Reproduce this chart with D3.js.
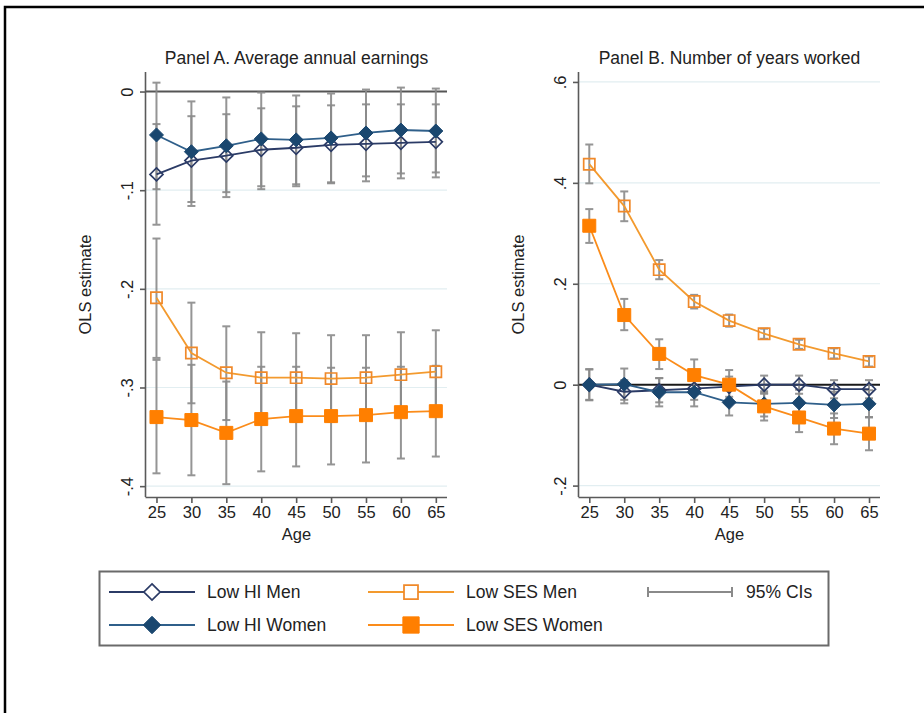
<!DOCTYPE html>
<html>
<head>
<meta charset="utf-8">
<script src="https://cdn.jsdelivr.net/npm/d3@7"></script>
<style>
    body { margin: 0; background: #fff; }
    svg { display: block; font-family: "Liberation Sans", Arial, sans-serif; }
</style>
</head>
<body>
<div id="chart"></div>
<script>
// Ages on the x axis
const ages = [25, 30, 35, 40, 45, 50, 55, 60, 65];

// Panel A. Average annual earnings (estimate, lower CI, upper CI)
const hiMenA = [-0.084, -0.070, -0.065, -0.059, -0.057, -0.054, -0.053, -0.052, -0.051];
const hiMenALo = [-0.135, -0.116, -0.107, -0.099, -0.096, -0.093, -0.091, -0.088, -0.087];
const hiMenAHi = [-0.033, -0.025, -0.023, -0.017, -0.015, -0.014, -0.013, -0.013, -0.013];
const hiWomenA = [-0.044, -0.061, -0.055, -0.048, -0.049, -0.047, -0.042, -0.039, -0.040];
const hiWomenALo = [-0.099, -0.112, -0.102, -0.096, -0.094, -0.092, -0.086, -0.083, -0.082];
const hiWomenAHi = [0.009, -0.010, -0.006, -0.001, -0.004, -0.002, 0.002, 0.004, 0.003];
const sesMenA = [-0.209, -0.265, -0.285, -0.290, -0.290, -0.291, -0.290, -0.287, -0.284];
const sesMenALo = [-0.270, -0.316, -0.333, -0.336, -0.335, -0.335, -0.333, -0.330, -0.327];
const sesMenAHi = [-0.149, -0.214, -0.238, -0.244, -0.245, -0.247, -0.247, -0.244, -0.242];
const sesWomenA = [-0.330, -0.333, -0.346, -0.332, -0.329, -0.329, -0.328, -0.325, -0.324];
const sesWomenALo = [-0.387, -0.389, -0.398, -0.385, -0.380, -0.378, -0.376, -0.372, -0.370];
const sesWomenAHi = [-0.272, -0.277, -0.294, -0.279, -0.279, -0.280, -0.280, -0.279, -0.278];

// Panel B. Number of years worked
const hiMenB = [0.000, -0.014, -0.011, -0.008, -0.004, 0.000, 0.000, -0.009, -0.009];
const hiMenBLo = [-0.030, -0.037, -0.035, -0.030, -0.024, -0.018, -0.018, -0.027, -0.027];
const hiMenBHi = [0.030, 0.009, 0.013, 0.014, 0.016, 0.018, 0.018, 0.009, 0.009];
const hiWomenB = [0.000, 0.001, -0.015, -0.015, -0.035, -0.038, -0.036, -0.040, -0.038];
const hiWomenBLo = [-0.031, -0.030, -0.043, -0.043, -0.061, -0.063, -0.062, -0.066, -0.065];
const hiWomenBHi = [0.031, 0.032, 0.013, 0.013, -0.009, -0.013, -0.010, -0.014, -0.011];
const sesMenB = [0.437, 0.354, 0.228, 0.165, 0.127, 0.101, 0.080, 0.062, 0.046];
const sesMenBLo = [0.399, 0.324, 0.209, 0.151, 0.115, 0.091, 0.071, 0.052, 0.036];
const sesMenBHi = [0.476, 0.383, 0.247, 0.178, 0.139, 0.111, 0.089, 0.072, 0.056];
const sesWomenB = [0.315, 0.138, 0.061, 0.019, 0.000, -0.043, -0.065, -0.087, -0.097];
const sesWomenBLo = [0.281, 0.108, 0.031, -0.012, -0.030, -0.071, -0.094, -0.118, -0.130];
const sesWomenBHi = [0.348, 0.170, 0.090, 0.050, 0.029, -0.016, -0.036, -0.057, -0.064];

// Tick labels
const yTicksA = [0, -0.1, -0.2, -0.3, -0.4];
const yTicksB = [0.6, 0.4, 0.2, 0, -0.2];

const seriesNames = ["Low HI Men", "Low HI Women", "Low SES Men", "Low SES Women"];
const ciLabel = "95% CIs";

const styles = {
    "Low HI Men": { line: "#2b3b66", marker: "diamond", fill: "none", stroke: "#2b3b66" },
    "Low HI Women": { line: "#2f5f8a", marker: "diamond", fill: "#1a476f", stroke: "#1a476f" },
    "Low SES Men": { line: "#f39a2e", marker: "square", fill: "none", stroke: "#f0892a" },
    "Low SES Women": { line: "#fb8c1a", marker: "square", fill: "#ff7f00", stroke: "#ff7f00" }
};
const ciColor = "#8a8a8a";

const width = 924, height = 713;
const svg = d3.select("#chart").append("svg")
    .attr("width", width)
    .attr("height", height);

// outer frame (top and left edges only)
svg.append("path")
    .attr("d", `M5,${height} L5,7 L${width},7`)
    .attr("fill", "none")
    .attr("stroke", "#000")
    .attr("stroke-width", 2.5);

function markerPath(type, filled) {
    if (type === "diamond") {
        const r = filled ? 7 : 6.5;
        return `M0,${-r}L${r},0L0,${r}L${-r},0Z`;
    }
    const s = filled ? 6.5 : 5.6;
    return `M${-s},${-s}H${s}V${s}H${-s}Z`;
}

// Stata-style labels: 0, -.1, .2
function fmt(v) {
    if (Math.abs(v) < 1e-9) return "0";
    const s = Math.abs(v).toFixed(1).replace(/^0/, "");
    return (v < 0 ? "-" : "") + s;
}

function drawPanel(p) {
    const x = d3.scaleLinear().domain(p.xDomain).range([p.left, p.right]);
    const y = d3.scaleLinear().domain(p.yDomain).range([p.bottom, p.top]);
    const g = svg.append("g");

    // grid lines
    g.selectAll(".grid")
        .data(p.yTicks.filter(v => v !== 0 && y(v) > p.top + 3))
        .enter().append("line")
        .attr("x1", p.left).attr("x2", p.right)
        .attr("y1", d => y(d)).attr("y2", d => y(d))
        .attr("stroke", "#e2eef1")
        .attr("stroke-width", 1.2);

    // zero reference line
    g.append("line")
        .attr("x1", p.left).attr("x2", p.right)
        .attr("y1", y(0)).attr("y2", y(0))
        .attr("stroke", p.zeroColor)
        .attr("stroke-width", 2);

    // axes
    const yAxis = g.append("g")
        .attr("transform", `translate(${p.left},0)`)
        .call(d3.axisLeft(y).tickValues(p.yTicks).tickSize(6).tickFormat(fmt));
    yAxis.select(".domain").attr("d", `M-0.5,${p.top}V${p.bottom}`);
    yAxis.selectAll("text")
        .attr("transform", "rotate(-90)")
        .attr("x", 0).attr("y", -13).attr("dy", 0)
        .attr("text-anchor", "middle");

    const xAxis = g.append("g")
        .attr("transform", `translate(0,${p.bottom})`)
        .call(d3.axisBottom(x).tickValues(ages).tickSize(6).tickFormat(d3.format("d")));
    xAxis.select(".domain").attr("d", `M${p.left - 0.5},0.5H${p.right}`);
    xAxis.selectAll("text").attr("y", 9).attr("dy", "0.71em");

    [yAxis, xAxis].forEach(a => {
        a.selectAll(".domain, .tick line").attr("stroke", "#5a5a5a").attr("stroke-width", 1.6);
        a.selectAll("text").attr("fill", "#222").attr("font-size", 16.5).attr("font-family", null);
    });

    g.append("text")
        .attr("x", (p.left + p.right) / 2).attr("y", 540)
        .attr("text-anchor", "middle")
        .attr("font-size", 16.5).attr("fill", "#222")
        .text("Age");

    g.append("text")
        .attr("transform", `translate(${p.left - 55},${(p.top + p.bottom) / 2}) rotate(-90)`)
        .attr("text-anchor", "middle")
        .attr("font-size", 16.5).attr("fill", "#222")
        .text("OLS estimate");

    g.append("text")
        .attr("x", (p.left + p.right) / 2).attr("y", 64)
        .attr("text-anchor", "middle")
        .attr("font-size", 17.5).attr("fill", "#222")
        .text(p.title);

    // confidence intervals
    p.series.forEach(s => {
        const ci = g.append("g").attr("stroke", ciColor).attr("stroke-width", 2).attr("opacity", 0.9);
        ages.forEach((a, i) => {
            const cx = x(a);
            ci.append("line").attr("x1", cx).attr("x2", cx).attr("y1", y(s.lo[i])).attr("y2", y(s.hi[i]));
            ci.append("line").attr("x1", cx - 4).attr("x2", cx + 4).attr("y1", y(s.lo[i])).attr("y2", y(s.lo[i]));
            ci.append("line").attr("x1", cx - 4).attr("x2", cx + 4).attr("y1", y(s.hi[i])).attr("y2", y(s.hi[i]));
        });
    });

    // estimate lines and markers
    p.series.forEach(s => {
        const st = styles[s.name];
        const line = d3.line().x((d, i) => x(ages[i])).y(d => y(d));
        g.append("path")
            .attr("d", line(s.est))
            .attr("fill", "none")
            .attr("stroke", st.line)
            .attr("stroke-width", 1.8);
        g.selectAll(null)
            .data(s.est)
            .enter().append("path")
            .attr("transform", (d, i) => `translate(${x(ages[i])},${y(d)})`)
            .attr("d", markerPath(st.marker, st.fill !== "none"))
            .attr("fill", st.fill)
            .attr("stroke", st.stroke)
            .attr("stroke-width", st.fill === "none" ? 1.7 : 1);
    });
}

drawPanel({
    title: "Panel A. Average annual earnings",
    left: 146, right: 447, top: 72, bottom: 497,
    xDomain: [23.5, 66.6], yDomain: [-0.411, 0.0198],
    yTicks: yTicksA, zeroColor: "#555",
    series: [
        { name: "Low HI Men", est: hiMenA, lo: hiMenALo, hi: hiMenAHi },
        { name: "Low HI Women", est: hiWomenA, lo: hiWomenALo, hi: hiWomenAHi },
        { name: "Low SES Men", est: sesMenA, lo: sesMenALo, hi: sesMenAHi },
        { name: "Low SES Women", est: sesWomenA, lo: sesWomenALo, hi: sesWomenAHi }
    ]
});

drawPanel({
    title: "Panel B. Number of years worked",
    left: 579, right: 880, top: 72, bottom: 497,
    xDomain: [23.53, 66.57], yDomain: [-0.2226, 0.6197],
    yTicks: yTicksB, zeroColor: "#1a1a1a",
    series: [
        { name: "Low HI Men", est: hiMenB, lo: hiMenBLo, hi: hiMenBHi },
        { name: "Low HI Women", est: hiWomenB, lo: hiWomenBLo, hi: hiWomenBHi },
        { name: "Low SES Men", est: sesMenB, lo: sesMenBLo, hi: sesMenBHi },
        { name: "Low SES Women", est: sesWomenB, lo: sesWomenBLo, hi: sesWomenBHi }
    ]
});

// Legend
const legend = svg.append("g");
legend.append("rect")
    .attr("x", 99.5).attr("y", 571.5)
    .attr("width", 729).attr("height", 74)
    .attr("fill", "#fff")
    .attr("stroke", "#6a6a6a")
    .attr("stroke-width", 2);

const legendPos = [
    { name: "Low HI Men", x: 109, y: 592 },
    { name: "Low HI Women", x: 109, y: 625 },
    { name: "Low SES Men", x: 368, y: 592 },
    { name: "Low SES Women", x: 368, y: 625 }
];
legendPos.forEach(lp => {
    const st = styles[lp.name];
    legend.append("line")
        .attr("x1", lp.x).attr("x2", lp.x + 86)
        .attr("y1", lp.y).attr("y2", lp.y)
        .attr("stroke", st.line).attr("stroke-width", 2);
    legend.append("path")
        .attr("transform", `translate(${lp.x + 43},${lp.y}) scale(1.25)`)
        .attr("d", markerPath(st.marker, st.fill !== "none"))
        .attr("fill", st.fill === "none" ? "#fff" : st.fill)
        .attr("stroke", st.stroke)
        .attr("stroke-width", st.fill === "none" ? 1.4 : 0.8);
    legend.append("text")
        .attr("x", lp.x + 98).attr("y", lp.y + 6)
        .attr("font-size", 17.5).attr("fill", "#222")
        .text(lp.name);
});

// CI legend key
const ciKey = legend.append("g").attr("stroke", ciColor).attr("stroke-width", 2);
ciKey.append("line").attr("x1", 648).attr("x2", 732).attr("y1", 592).attr("y2", 592);
ciKey.append("line").attr("x1", 648).attr("x2", 648).attr("y1", 587).attr("y2", 597);
ciKey.append("line").attr("x1", 732).attr("x2", 732).attr("y1", 587).attr("y2", 597);
legend.append("text")
    .attr("x", 746).attr("y", 598)
    .attr("font-size", 17.5).attr("fill", "#222")
    .text(ciLabel);
</script>
</body>
</html>
